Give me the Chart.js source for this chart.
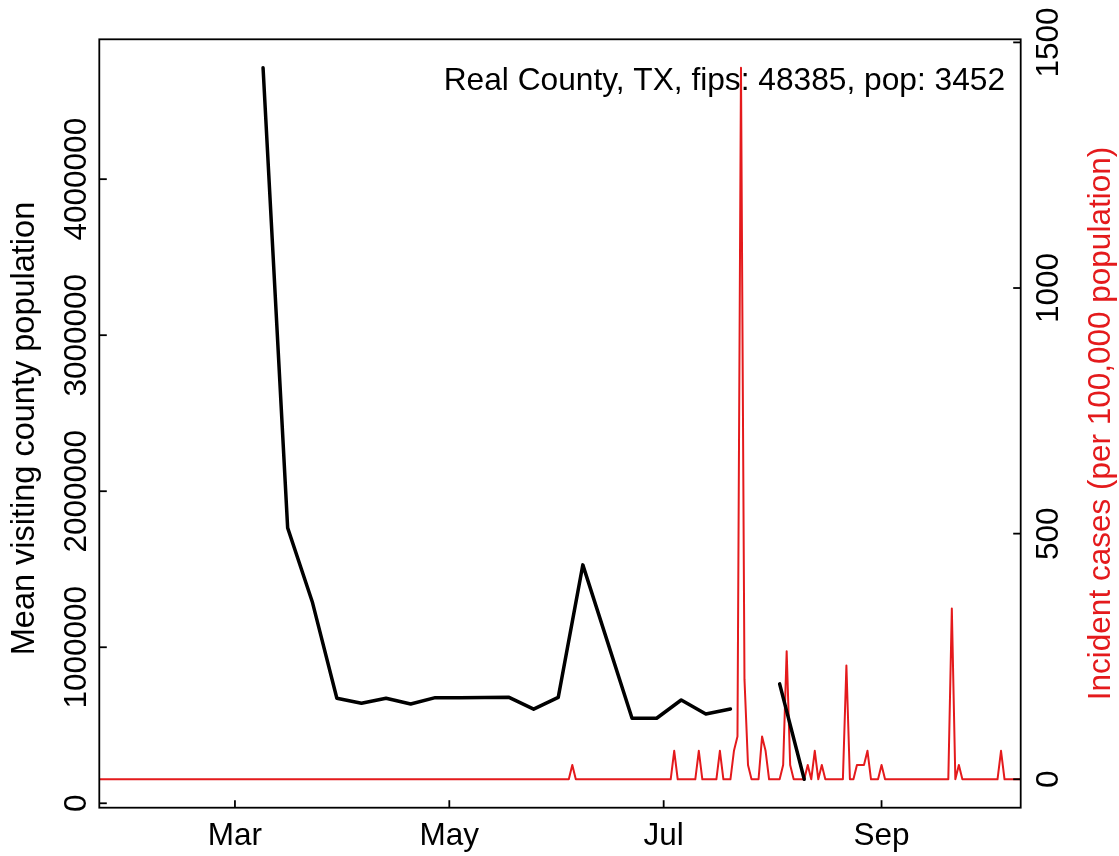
<!DOCTYPE html>
<html><head><meta charset="utf-8">
<script src="https://cdn.jsdelivr.net/npm/chart.js@4.4.1/dist/chart.umd.min.js"></script>
<style>html,body{margin:0;padding:0;background:#fff;overflow:hidden}#wrap{width:1119px;height:856px;position:relative}</style>
</head><body><div id="wrap"><canvas id="c" width="1119" height="856"></canvas></div>
<script>
const TITLE = "Real County, TX, fips: 48385, pop: 3452";
const LEFT_LABEL = "Mean visiting county population";
const RIGHT_LABEL = "Incident cases (per 100,000 population)";
const MONTH_TICKS = ["2020-03-01","2020-05-01","2020-07-01","2020-09-01"];
const MONTH_LABELS = ["Mar","May","Jul","Sep"];
const LEFT_TICKS = [0,1000000,2000000,3000000,4000000];
const RIGHT_TICKS = [0,500,1000,1500];

// weekly mean visiting county population
const visitDates = ["2020-03-09","2020-03-16","2020-03-23","2020-03-30","2020-04-06","2020-04-13","2020-04-20","2020-04-27","2020-05-04","2020-05-11","2020-05-18","2020-05-25","2020-06-01","2020-06-08","2020-06-15","2020-06-22","2020-06-29","2020-07-06","2020-07-13","2020-07-20","2020-07-27","2020-08-03","2020-08-10"];
const visitPop = [4714000,1765000,1292000,673000,641000,673000,636000,677000,677000,678000,679000,603000,679000,1528000,1036000,545000,545000,662000,572000,604000,null,765000,154000];

// daily incident cases per 100,000, starting 2020-01-22
const caseStart = "2020-01-22";
const casesJan = [0,0,0,0,0,0,0,0,0,0];
const casesFeb = [0,0,0,0,0,0,0,0,0,0, 0,0,0,0,0,0,0,0,0,0, 0,0,0,0,0,0,0,0,0];
const casesMar = [0,0,0,0,0,0,0,0,0,0, 0,0,0,0,0,0,0,0,0,0, 0,0,0,0,0,0,0,0,0,0, 0];
const casesApr = [0,0,0,0,0,0,0,0,0,0, 0,0,0,0,0,0,0,0,0,0, 0,0,0,0,0,0,0,0,0,0];
const casesMay = [0,0,0,0,0,0,0,0,0,0, 0,0,0,0,0,0,0,0,0,0, 0,0,0,0,0,0,0,0,0,0, 0];
const casesJun = [0,0,0,0,28.97,0,0,0,0,0, 0,0,0,0,0,0,0,0,0,0, 0,0,0,0,0,0,0,0,0,0];
const casesJul = [0,0,0,57.94,0,0,0,0,0,0, 57.94,0,0,0,0,0,57.94,0,0,0, 57.94,86.91,1448.4,202.78,28.97,0,0,0,86.91,57.94, 0];
const casesAug = [0,0,0,28.97,260.72,28.97,0,0,0,0, 28.97,0,57.94,0,28.97,0,0,0,0,0, 0,231.75,0,0,28.97,28.97,28.97,57.94,0,0, 0];
const casesSep = [28.97,0,0,0,0,0,0,0,0,0, 0,0,0,0,0,0,0,0,0,0, 347.62,0,28.97,0,0,0,0,0,0,0];
const casesOct = [0,0,0,0,57.94,0,0,0,0,0, 0];

const DAY = 86400000;
const ORIGIN = Date.parse("2020-03-01T00:00:00Z");
function dayNum(s){ return (Date.parse(s+"T00:00:00Z") - ORIGIN)/DAY; }

const caseValues = [].concat(casesJan,casesFeb,casesMar,casesApr,casesMay,casesJun,casesJul,casesAug,casesSep,casesOct);
const caseStartDay = dayNum(caseStart);
const casePoints = caseValues.map((v,i)=>({x: caseStartDay + i, y: v}));
const visitPoints = visitDates.map((d,i)=>({x: dayNum(d), y: visitPop[i]}));

const RED = '#e41a1c';
const FAM = '"Liberation Sans", Arial, Helvetica, sans-serif';
const FONT = '31.5px ' + FAM;

function rotText(ctx, txt, x, y){
  ctx.save(); ctx.translate(x,y); ctx.rotate(-Math.PI/2);
  ctx.textAlign='center'; ctx.textBaseline='alphabetic';
  ctx.fillText(txt,0,0); ctx.restore();
}
function seg(ctx,x1,y1,x2,y2){ ctx.beginPath(); ctx.moveTo(x1,y1); ctx.lineTo(x2,y2); ctx.stroke(); }

const titlePlugin = {
  id:'titleText',
  beforeDatasetsDraw(chart){
    const ctx = chart.ctx;
    ctx.save(); ctx.font = '31.7px ' + FAM; ctx.fillStyle='#000';
    ctx.textAlign='right'; ctx.textBaseline='alphabetic';
    ctx.fillText(TITLE, 1005, 90);
    ctx.restore();
  }
};

const framePlugin = {
  id:'frame',
  afterDraw(chart){
    const {ctx, chartArea:a} = chart;
    const x = chart.scales.x, yL = chart.scales.yL, yR = chart.scales.yR;
    ctx.save();
    ctx.strokeStyle='#000'; ctx.lineWidth=1.8; ctx.lineCap='butt';
    ctx.strokeRect(a.left, a.top, a.right-a.left, a.bottom-a.top);
    ctx.font = FONT; ctx.fillStyle='#000';
    MONTH_TICKS.forEach((d,i)=>{
      const px = x.getPixelForValue(dayNum(d));
      seg(ctx, px, a.bottom, px, a.bottom-7.5);
      ctx.textAlign='center'; ctx.textBaseline='alphabetic';
      ctx.fillText(MONTH_LABELS[i], px, 845);
    });
    LEFT_TICKS.forEach(v=>{
      const py = yL.getPixelForValue(v);
      seg(ctx, a.left, py, a.left+7.5, py);
      rotText(ctx, String(v), 85.5, py);
    });
    RIGHT_TICKS.forEach(v=>{
      const py = yR.getPixelForValue(v);
      seg(ctx, a.right, py, a.right-7.5, py);
      rotText(ctx, String(v), 1058, py);
    });
    const cy = (a.top+a.bottom)/2;
    ctx.font = '32.5px ' + FAM;
    rotText(ctx, LEFT_LABEL, 34.3, cy + 5);
    ctx.font = FONT;
    ctx.fillStyle = RED;
    rotText(ctx, RIGHT_LABEL, 1110, cy);
    ctx.restore();
  }
};

new Chart(document.getElementById('c'), {
  type:'line',
  data:{ datasets:[
    { label:'visiting', data: visitPoints, yAxisID:'yL', borderColor:'#000', borderWidth:3.5,
      pointRadius:0, tension:0, spanGaps:false, borderJoinStyle:'round', borderCapStyle:'round', fill:false },
    { label:'cases', data: casePoints, yAxisID:'yR', borderColor:RED, borderWidth:2,
      pointRadius:0, tension:0, borderJoinStyle:'round', borderCapStyle:'round', fill:false }
  ]},
  options:{
    responsive:false, animation:false, devicePixelRatio:1,
    layout:{ padding:{ left:99.3, right:98.3, top:39.3, bottom:48.3 } },
    plugins:{ legend:{display:false}, tooltip:{enabled:false}, title:{display:false} },
    scales:{
      x:{ type:'linear', display:false, min:-38.6, max:223.6 },
      yL:{ type:'linear', display:false, position:'left', min:-28400, max:4896400 },
      yR:{ type:'linear', display:false, position:'right', min:-57.9, max:1506.3 }
    }
  },
  plugins:[titlePlugin, framePlugin]
});
</script></body></html>
